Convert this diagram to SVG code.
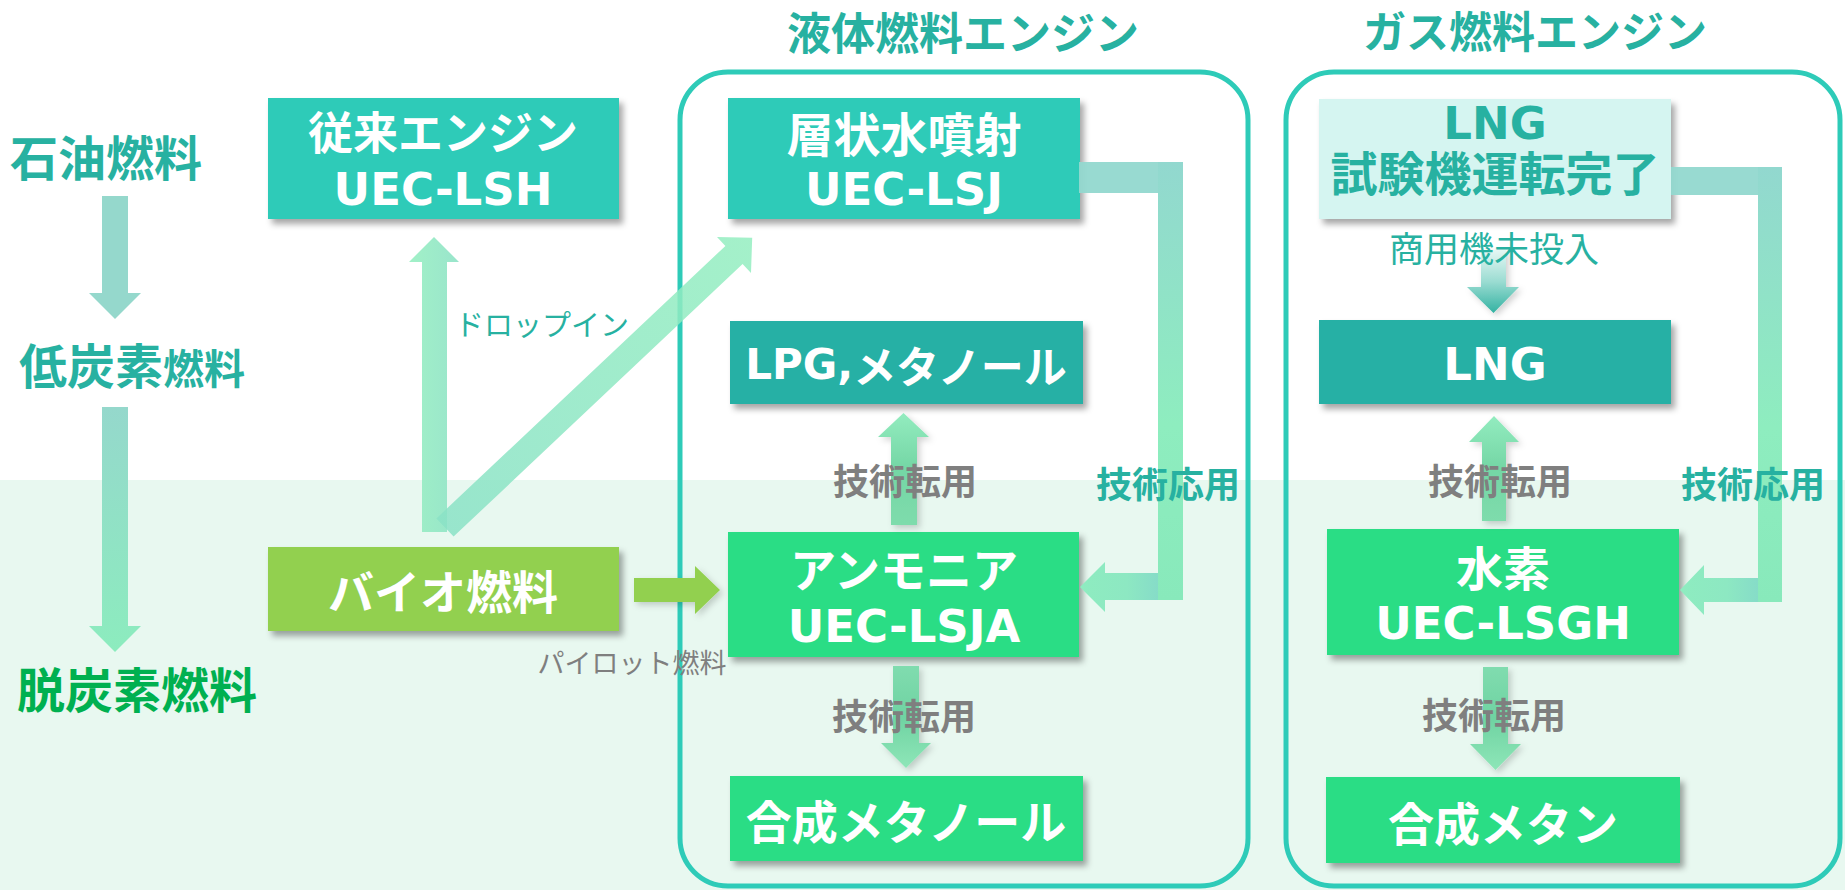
<svg xmlns="http://www.w3.org/2000/svg" width="1845" height="890" viewBox="0 0 1845 890">
<defs>
<style>
.jp{font-family:"Noto Sans CJK JP","Noto Sans",sans-serif;}
.lat{font-family:"DejaVu Sans","Noto Sans CJK JP",sans-serif;}
.b{font-weight:700;}
.c{text-anchor:middle;dominant-baseline:central;}
.w{fill:#ffffff;}
.teal{fill:#27b1a1;}
.grey{fill:#7f7f7f;}
.box{filter:url(#sh);}
.cont{fill:none;stroke:#2ecbb8;stroke-width:5;}
.ash{filter:url(#ash);}
</style>
<filter id="sh" x="-10%" y="-20%" width="130%" height="150%">
<feDropShadow dx="4" dy="5" stdDeviation="3" flood-color="#000" flood-opacity="0.35"/>
</filter>
<filter id="ash" x="-50%" y="-10%" width="200%" height="130%">
<feDropShadow dx="3" dy="3" stdDeviation="3" flood-color="#000" flood-opacity="0.18"/>
</filter>
<linearGradient id="gL2" gradientUnits="userSpaceOnUse" x1="0" y1="407" x2="0" y2="652">
<stop offset="0" stop-color="#95d8cc"/><stop offset="1" stop-color="#8cecbe"/>
</linearGradient>
<linearGradient id="gDrop" gradientUnits="userSpaceOnUse" x1="409" y1="0" x2="459" y2="0">
<stop offset="0" stop-color="#97efc1"/><stop offset="1" stop-color="#8ee2c6"/>
</linearGradient>
<linearGradient id="gDiag" gradientUnits="userSpaceOnUse" x1="752" y1="238" x2="445" y2="527">
<stop offset="0" stop-color="#94eec0"/><stop offset="1" stop-color="#8ae2c6"/>
</linearGradient>
<linearGradient id="gUp" x1="0" y1="0" x2="0" y2="1">
<stop offset="0" stop-color="#93ecbf"/><stop offset="0.5" stop-color="#74d6a5"/><stop offset="1" stop-color="#7edcac"/>
</linearGradient>
<linearGradient id="gDown" x1="0" y1="0" x2="0" y2="1">
<stop offset="0" stop-color="#80dcaf"/><stop offset="0.5" stop-color="#6fd3a2"/><stop offset="1" stop-color="#8ee6b8"/>
</linearGradient>
<linearGradient id="gElbV" x1="0" y1="0" x2="0" y2="1">
<stop offset="0" stop-color="#92d8cf"/><stop offset="0.6" stop-color="#8eedbf"/><stop offset="1" stop-color="#88e9bb"/>
</linearGradient>
<linearGradient id="gElbH" x1="0" y1="0" x2="1" y2="0">
<stop offset="0" stop-color="#8eecc0"/><stop offset="0.6" stop-color="#8de8c2"/><stop offset="1" stop-color="#86dcc8"/>
</linearGradient>
<linearGradient id="gTeal" x1="0" y1="0" x2="0" y2="1">
<stop offset="0" stop-color="#e6f7f4"/><stop offset="0.5" stop-color="#9bdcd2"/><stop offset="1" stop-color="#33b2a2"/>
</linearGradient>
</defs>

<rect x="0" y="0" width="1845" height="890" fill="#ffffff"/>
<rect x="0" y="480" width="1845" height="410" fill="#e8f8f0"/>

<g id="containers">
<rect class="cont" x="680" y="72" width="568" height="814" rx="48"/>
<rect class="cont" x="1286" y="72" width="554" height="814" rx="48"/>
</g>

<g id="titles">
<text class="jp b c teal" x="963" y="31" font-size="44">液体燃料エンジン</text>
<text class="jp b c teal" x="1535" y="29" font-size="43">ガス燃料エンジン</text>
</g>

<g id="stages">
<text class="jp b c teal" x="106" y="155" font-size="48">石油燃料</text>
<text class="jp b teal" x="19" y="384" font-size="48">低炭素<tspan font-size="41">燃料</tspan></text>
<text class="jp b c" x="137" y="687" font-size="48" fill="#00b050">脱炭素燃料</text>
</g>

<g id="n-conv">
<rect class="box" x="268" y="98" width="351" height="121" fill="#2ecbb8"/>
<text class="b c w"><tspan class="jp" x="443" y="130" font-size="45">従来エンジン</tspan><tspan class="lat" x="443" y="189" font-size="45">UEC-LSH</tspan></text>
</g>

<g id="n-lsj">
<rect class="box" x="728" y="98" width="352" height="121" fill="#2ecbb8"/>
<text class="b c w"><tspan class="jp" x="904" y="131" font-size="47">層状水噴射</tspan><tspan class="lat" x="904" y="189" font-size="45">UEC-LSJ</tspan></text>
</g>

<g id="n-lpg">
<rect class="box" x="730" y="321" width="353" height="83" fill="#26b0a5"/>
<text class="jp b c w" x="906" y="364" font-size="43"><tspan class="lat" font-size="42">LPG,</tspan>メタノール</text>
</g>

<g id="n-bio">
<rect class="box" x="268" y="547" width="351" height="84" fill="#92d050"/>
<text class="jp b c w" x="443" y="589" font-size="46">バイオ燃料</text>
</g>

<g id="n-amm">
<rect class="box" x="728" y="532" width="351" height="125" fill="#2add85"/>
<text class="b c w"><tspan class="jp" x="904" y="567" font-size="46">アンモニア</tspan><tspan class="lat" x="904" y="626" font-size="45">UEC-LSJA</tspan></text>
</g>

<g id="n-synmeth">
<rect class="box" x="730" y="776" width="353" height="85" fill="#2add85"/>
<text class="jp b c w" x="906" y="819" font-size="46">合成メタノール</text>
</g>

<g id="n-lngtest">
<rect class="box" x="1319" y="99" width="352" height="120" fill="#d5f5f1"/>
<text class="b c teal"><tspan class="lat" x="1495" y="123" font-size="45">LNG</tspan><tspan class="jp" x="1495" y="170" font-size="47">試験機運転完了</tspan></text>
</g>

<g id="n-lng">
<rect class="box" x="1319" y="320" width="352" height="84" fill="#26b0a5"/>
<text class="lat b c w" x="1495" y="364" font-size="45">LNG</text>
</g>

<g id="n-h2">
<rect class="box" x="1327" y="529" width="352" height="126" fill="#2add85"/>
<text class="b c w"><tspan class="jp" x="1503" y="565" font-size="47">水素</tspan><tspan class="lat" x="1503" y="623" font-size="45">UEC-LSGH</tspan></text>
</g>

<g id="n-synmethane">
<rect class="box" x="1326" y="777" width="354" height="86" fill="#2add85"/>
<text class="jp b c w" x="1503" y="821" font-size="46">合成メタン</text>
</g>

<g id="connectors">
<path d="M102,196 H128 V293 H141 L115,319 L89,293 H102 Z" fill="#95d8cc"/>
<path d="M102,407 H128 V626 H141 L115,652 L89,626 H102 Z" fill="url(#gL2)"/>
<path d="M422,532 V262 H409 L434,237 L459,262 H447 V532 Z" fill="url(#gDrop)" opacity="0.9"/>
<path d="M436.4,518.4 L725.4,245.9 L717,237 L752.2,237.8 L751,273 L742.6,264.1 L453.6,536.6 Z" fill="url(#gDiag)" opacity="0.85"/>
<path d="M634,578 H695 V566 L720,590 L695,614 V602 H634 Z" fill="#92d050" class="ash"/>
<path class="ash" d="M891,525 V437 H878 L903.5,413 L929,437 H917 V525 Z" fill="url(#gUp)"/>
<path class="ash" d="M893,666 H919 V743 H931 L906,768 L881,743 H893 Z" fill="url(#gDown)"/>
<rect x="1079" y="162" width="80" height="31" fill="#92d8cf" opacity="0.95"/>
<rect x="1158" y="162" width="25" height="438" fill="url(#gElbV)"/>
<path d="M1158,573 H1105 V562 L1080,587 L1105,612 V600 H1158 Z" fill="url(#gElbH)"/>
<path class="ash" d="M1481,250 H1506 V287 H1519 L1493.5,313 L1467,287 H1481 Z" fill="url(#gTeal)"/>
<path class="ash" d="M1482,521 V442 H1469 L1494,416 L1519,442 H1506 V521 Z" fill="url(#gUp)"/>
<path class="ash" d="M1483,667 H1508 V744 H1521 L1495.5,770 L1470,744 H1483 Z" fill="url(#gDown)"/>
<rect x="1671" y="167" width="88" height="28" fill="#92d8cf" opacity="0.95"/>
<rect x="1758" y="167" width="24" height="435" fill="url(#gElbV)"/>
<path d="M1758,578 H1704 V565 L1680,590 L1704,615 V602 H1758 Z" fill="url(#gElbH)"/>
</g>

<g id="labels">
<text class="jp c teal" x="542" y="323" font-size="29">ドロップイン</text>
<text class="jp c grey" x="632" y="661" font-size="27">パイロット燃料</text>
<text class="jp c teal" x="1494" y="246" font-size="35">商用機未投入</text>
<text class="jp b c grey" x="905" y="479" font-size="36">技術転用</text>
<text class="jp b c grey" x="904" y="714" font-size="36">技術転用</text>
<text class="jp b c grey" x="1500" y="479" font-size="36">技術転用</text>
<text class="jp b c grey" x="1494" y="713" font-size="36">技術転用</text>
<text class="jp b c teal" x="1168" y="482" font-size="36">技術応用</text>
<text class="jp b c teal" x="1753" y="482" font-size="36">技術応用</text>
</g>
</svg>
